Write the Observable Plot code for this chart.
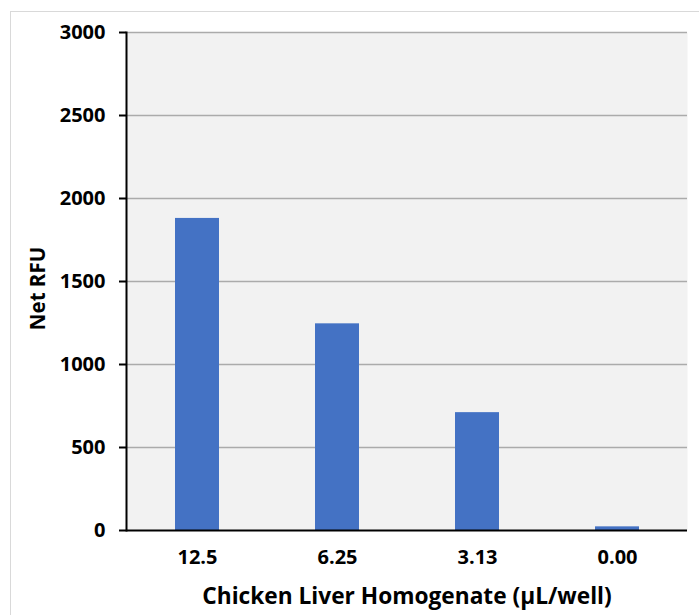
<!DOCTYPE html>
<html>
<head>
<meta charset="utf-8">
<script src="https://cdn.jsdelivr.net/npm/d3@7"></script>
<script src="https://cdn.jsdelivr.net/npm/@observablehq/plot@0.6"></script>
<style>
  html, body { margin: 0; padding: 0; background: #fff; }
  #wrap { position: relative; width: 699px; height: 615px; overflow: hidden; }
  #frame { position: absolute; left: 10px; top: 11px; width: 700px; height: 620px; border: 1.5px solid #d9d9d9; box-sizing: border-box; }
  #chart { position: absolute; left: 0; top: 0; }
  svg text { font-family: "Open Sans", sans-serif; font-weight: bold; fill: #000; }
  g[aria-label="y-axis tick label"] text, g[aria-label="x-axis tick label"] text { font-size: 20px; }
</style>
</head>
<body>
<div id="wrap"><div id="frame"></div><div id="chart"></div></div>
<script>
const categories = ["12.5", "6.25", "3.13", "0.00"];
const netRFU = [1880, 1245, 710, 22];
const yTicks = [0, 500, 1000, 1500, 2000, 2500, 3000];
const xTitle = "Chicken Liver Homogenate (µL/well)";
const yTitle = "Net RFU";

const data = categories.map((c, i) => ({ cat: c, value: netRFU[i] }));

const chart = Plot.plot({
  width: 699,
  height: 615,
  marginLeft: 126,
  marginRight: 12,
  marginTop: 32,
  marginBottom: 85,
  style: { background: "transparent", overflow: "visible" },
  x: { domain: categories, paddingInner: 0.686, paddingOuter: 0.343, label: null },
  y: { domain: [0, 3000], label: null },
  marks: [
    Plot.frame({ fill: "#f2f2f2", stroke: null }),
    Plot.ruleY(yTicks.filter(d => d > 0), { stroke: "#ababab", strokeWidth: 1.3 }),
    Plot.barY(data, { x: "cat", y: "value", fill: "#4472c4" }),
    Plot.frame({ anchor: "left", stroke: "#000", strokeWidth: 2 }),
    Plot.ruleY([0], { stroke: "#000", strokeWidth: 2 }),
    Plot.axisY({ ticks: yTicks, tickSize: 7, tickPadding: 14, tickFormat: d => String(d), fontSize: 20, stroke: "#000", strokeWidth: 2, label: null }),
    Plot.axisX({ tickSize: 0, tickPadding: 19, fontSize: 20, label: null }),
    Plot.text([xTitle], { frameAnchor: "bottom", dy: 73, fontSize: 22.7, fontWeight: "bold", fill: "#000" }),
    Plot.text([yTitle], { frameAnchor: "left", textAnchor: "middle", dx: -88, dy: 7, rotate: -90, fontSize: 20.5, fontWeight: "bold", fill: "#000" })
  ]
});
document.getElementById("chart").appendChild(chart);
</script>
</body>
</html>
